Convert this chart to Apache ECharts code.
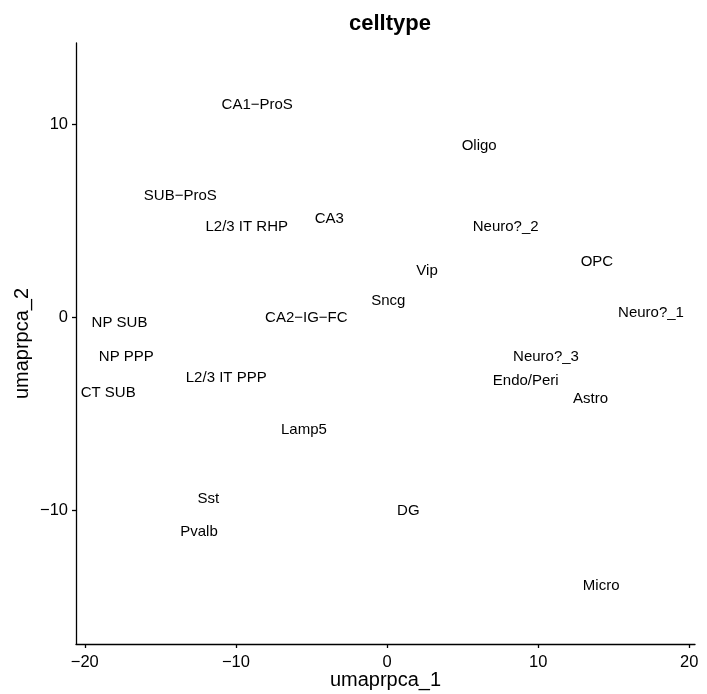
<!DOCTYPE html>
<html>
<head>
<meta charset="utf-8">
<script src="https://cdn.jsdelivr.net/npm/echarts@6/dist/echarts.min.js"></script>
<style>
  html, body { margin: 0; padding: 0; background: #fff; }
  #chart { width: 707px; height: 694px; }
</style>
</head>
<body>
<div id="chart"></div>
<script>
// Cell-type centroids in UMAP (rpca) space, one text label per type
const cellTypes = [
  'CA1-ProS', 'Oligo', 'SUB-ProS', 'L2/3 IT RHP', 'CA3', 'Neuro?_2', 'Vip', 'OPC',
  'Sncg', 'NP SUB', 'CA2-IG-FC', 'Neuro?_1', 'NP PPP', 'Neuro?_3', 'L2/3 IT PPP',
  'Endo/Peri', 'CT SUB', 'Astro', 'Lamp5', 'Sst', 'DG', 'Pvalb', 'Micro'
];
const umap1 = [
  -8.59, 6.10, -13.68, -9.28, -3.82, 7.85, 2.65, 13.89,
  0.08, -17.70, -5.34, 17.47, -17.25, 10.52, -10.64,
  9.18, -18.45, 13.47, -5.50, -11.83, 1.41, -12.44, 14.17
];
const umap2 = [
  11.00, 8.89, 6.28, 4.69, 5.08, 4.69, 2.40, 2.85,
  0.86, -0.28, -0.02, 0.24, -2.06, -2.04, -3.16,
  -3.28, -3.90, -4.25, -5.84, -9.41, -10.02, -11.10, -13.92
];
const xTicks = [-20, -10, 0, 10, 20];
const yTicks = [-10, 0, 10];

const points = cellTypes.map((name, i) => ({ name: name, value: [umap1[i], umap2[i]] }));

const FONT = '"Liberation Sans", Arial, sans-serif';
const minus = v => String(v).replace('-', '\u2212');

const chart = echarts.init(document.getElementById('chart'), null, { renderer: 'canvas' });

const axisCommon = {
  axisLine: { show: true, onZero: false, lineStyle: { color: '#000', width: 1.3 } },
  axisTick: { show: true, length: 4, lineStyle: { color: '#000', width: 1.3 } },
  splitLine: { show: false },
  nameMoveOverlap: false,
  nameTextStyle: { fontFamily: FONT, fontSize: 20, color: '#000' }
};

chart.setOption({
  animation: false,
  backgroundColor: '#fff',
  title: {
    text: 'celltype',
    left: 385,
    textAlign: 'center',
    top: 8,
    textStyle: { fontFamily: FONT, fontSize: 22, fontWeight: 'bold', color: '#000' }
  },
  grid: {
    left: 76, right: 12, top: 43, bottom: 50,
    containLabel: false,
    outerBoundsMode: 'none'
  },
  xAxis: Object.assign({}, axisCommon, {
    type: 'value',
    min: -20.58,
    max: 20.38,
    name: 'umaprpca_1',
    nameLocation: 'middle',
    nameGap: 26,
    axisTick: Object.assign({}, axisCommon.axisTick, { customValues: xTicks }),
    axisLabel: {
      customValues: xTicks,
      margin: 10,
      fontFamily: FONT, fontSize: 16.5, color: '#000',
      formatter: minus
    }
  }),
  yAxis: Object.assign({}, axisCommon, {
    type: 'value',
    min: -16.93,
    max: 14.2,
    name: 'umaprpca_2',
    nameLocation: 'middle',
    nameGap: 44,
    axisTick: Object.assign({}, axisCommon.axisTick, { customValues: yTicks }),
    axisLabel: {
      customValues: yTicks,
      margin: 8,
      fontFamily: FONT, fontSize: 16.5, color: '#000',
      formatter: minus
    }
  }),
  series: [{
    type: 'scatter',
    data: points,
    symbol: 'circle',
    symbolSize: 1,
    itemStyle: { color: 'rgba(0,0,0,0)' },
    label: {
      show: true,
      position: 'inside',
      offset: [0, 1.5],
      formatter: p => p.name.replace(/-/g, '\u2212'),
      fontFamily: FONT,
      fontSize: 15,
      color: '#000',
      opacity: 1,
      textBorderWidth: 0,
      align: 'center',
      verticalAlign: 'middle'
    },
    emphasis: { disabled: true },
    labelLayout: { hideOverlap: false }
  }]
});
</script>
</body>
</html>
